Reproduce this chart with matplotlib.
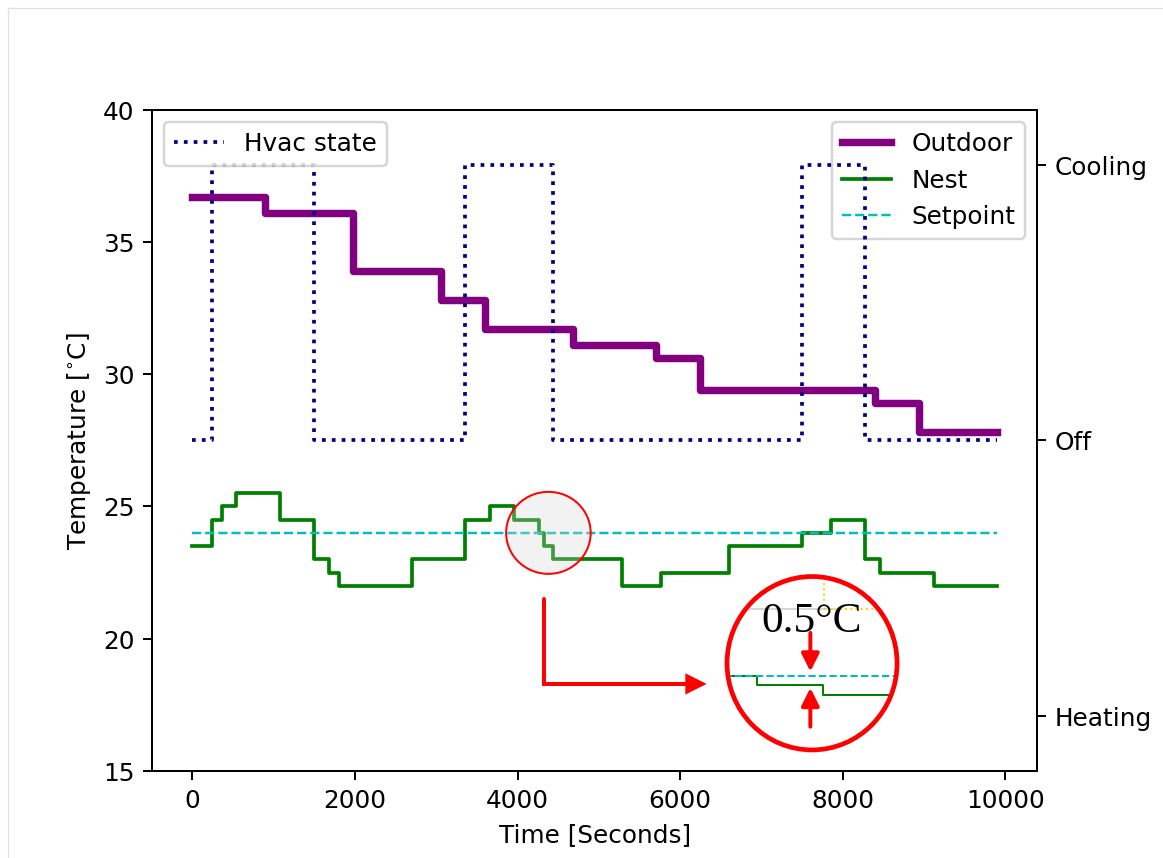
import matplotlib
matplotlib.use('Agg')
import matplotlib.pyplot as plt
from matplotlib.patches import Ellipse, FancyArrowPatch
from matplotlib.lines import Line2D
from matplotlib.path import Path

# outdoor temperature steps (seconds, deg C)
outdoor_t = [0, 900, 1980, 3060, 3600, 4680, 5700, 6240, 8400, 8940, 9900]
outdoor_temp = [36.7, 36.1, 33.9, 32.8, 31.7, 31.1, 30.6, 29.4, 28.9, 27.8, 27.8]

# thermostat reading
nest_t = [0, 240, 360, 540, 1080, 1500, 1680, 1800, 2700, 3360, 3660, 3960,
          4260, 4320, 4440, 5280, 5760, 6600, 7500, 7860, 8280, 8460, 9120, 9900]
nest_temp = [23.5, 24.5, 25.0, 25.5, 24.5, 23.0, 22.5, 22.0, 23.0, 24.5, 25.0, 24.5,
             24.0, 23.5, 23.0, 22.0, 22.5, 23.5, 24.0, 24.5, 23.0, 22.5, 22.0, 22.0]

setpoint = 24.0

# hvac mode: -1 heating, 0 off, 1 cooling
hvac_t = [0, 240, 1500, 3360, 4440, 7500, 8280, 9900]
hvac_state = [0, 1, 0, 1, 0, 1, 0, 0]
hvac_ticks = [-1, 0, 1]
hvac_labels = ['Heating', 'Off', 'Cooling']

W, H = 1163, 858
DPI = 178.5
fig = plt.figure(figsize=((W + 0.5) / DPI, (H + 0.5) / DPI), dpi=DPI)

def fx(px):
    return px / W

def fy(py):
    return 1 - py / H

ax = fig.add_axes([fx(152), fy(771), fx(1037) - fx(152), fy(110) - fy(771)])
ax.plot(outdoor_t, outdoor_temp, drawstyle='steps-post', color='purple', lw=3, label='Outdoor')
ax.plot(nest_t, nest_temp, drawstyle='steps-post', color='green', lw=1.5, label='Nest')
ax.plot([nest_t[0], nest_t[-1]], [setpoint, setpoint], '--', color='c', lw=1, label='Setpoint')
ax.set_ylim(15, 40)
ax.set_xlabel('Time [Seconds]')
ax.set_ylabel('Temperature [$^{\\circ}$C]')
ax.legend(loc='upper right')

ax2 = ax.twinx()
ax2.plot(hvac_t, hvac_state, drawstyle='steps-post', color='navy', ls=':', lw=1.5, label='Hvac state')
ax2.set_ylim(-1.2, 1.2)
ax2.set_yticks(hvac_ticks)
ax2.set_yticklabels(hvac_labels)
ax2.legend(loc='upper left')

# highlighted region around the setpoint crossing
ax.add_patch(Ellipse((4380, setpoint), 1040, 3.1, facecolor=(0.83, 0.83, 0.83, 0.3),
                     edgecolor='red', lw=0.8, zorder=5))

# pointer from the highlight to the zoomed view
lpath = Path([(4324, 21.5), (4324, 18.29), (6326, 18.29)])
ax.add_patch(FancyArrowPatch(path=lpath, arrowstyle='-|>', mutation_scale=15,
                             lw=1.6, color='red', joinstyle='miter', zorder=6))

# zoomed view in a circle
axin = fig.add_axes([fx(726.7), fy(750), fx(896.7) - fx(726.7), fy(576.7) - fy(750)])
axin.set_axis_off()
clip = Ellipse((0.5, 0.5), 1, 1, transform=axin.transAxes, fill=False)
l1, = axin.plot(nest_t, nest_temp, drawstyle='steps-post', color='green', lw=0.8)
l2, = axin.plot([nest_t[0], nest_t[-1]], [setpoint, setpoint], '--', color='c', lw=0.8)
for ln in (l1, l2):
    ln.set_clip_path(clip)
axin.set_xlim(4265, 4574)
axin.set_ylim(20.1, 29.2)

axin.plot([0.137, 0.625], [0.814, 0.814], color='0.82', lw=0.7, transform=axin.transAxes)
axin.plot([0.572, 0.572], [0.964, 0.814], color='gold', ls=':', lw=0.8, transform=axin.transAxes)
axin.plot([0.572, 0.884], [0.814, 0.814], color='gold', ls=':', lw=0.8, transform=axin.transAxes)
axin.text(0.499, 0.683, '0.5°C', transform=axin.transAxes, ha='center', va='baseline',
          family='Liberation Serif', fontsize=17.5, zorder=8)
arrow_kw = dict(arrowstyle='-|>', color='red', lw=1.6, mutation_scale=15, shrinkA=0, shrinkB=0)
axin.annotate('', xy=(0.49, 0.452), xytext=(0.49, 0.675), xycoords='axes fraction',
              textcoords='axes fraction', arrowprops=arrow_kw)
axin.annotate('', xy=(0.49, 0.358), xytext=(0.49, 0.134), xycoords='axes fraction',
              textcoords='axes fraction', arrowprops=arrow_kw)
ring = Ellipse((0.5, 0.5), 1, 1, transform=axin.transAxes, fill=False,
               edgecolor='red', lw=1.9, zorder=10, clip_on=False)
axin.add_patch(ring)

# frame edge
fig.add_artist(Line2D([fx(8), 1], [fy(8), fy(8)], color='0.88', lw=0.5))
fig.add_artist(Line2D([fx(8), fx(8)], [0, fy(8)], color='0.88', lw=0.5))

fig.savefig('out.png', dpi=DPI)
